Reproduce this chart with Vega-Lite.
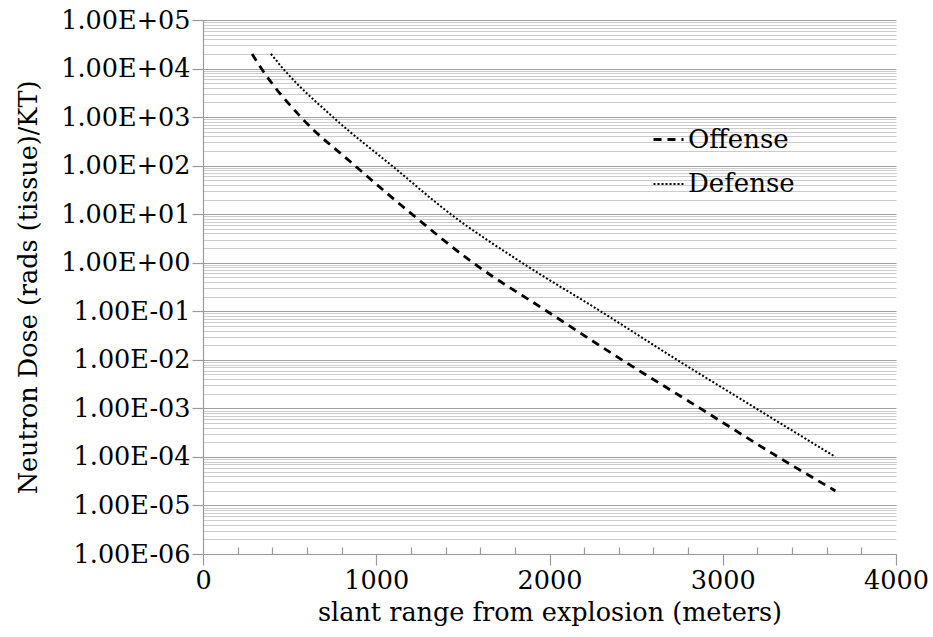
{
  "$schema": "https://vega.github.io/schema/vega-lite/v6.json",
  "autosize": {"type": "none"},
  "width": 693,
  "height": 534,
  "padding": {"left": 203, "top": 20, "right": 37, "bottom": 83},
  "background": "white",
  "config": {
    "view": {"stroke": null},
    "font": "DejaVu Serif",
    "axis": {"labelFont": "DejaVu Serif", "titleFont": "DejaVu Serif", "labelColor": "black", "titleColor": "black", "titleFontWeight": "normal", "labelFontSize": 25.5, "titleFontSize": 25.5, "domainColor": "#999999", "tickColor": "#999999", "domainWidth": 1.2, "tickWidth": 1.2},
    "legend": {"labelFont": "DejaVu Serif", "labelFontSize": 26, "labelColor": "black"}
  },
  "data": {"values": [
    {"series": "Offense", "range": 283, "dose": 20000},
    {"series": "Offense", "range": 337, "dose": 10000},
    {"series": "Offense", "range": 565, "dose": 1000},
    {"series": "Offense", "range": 877, "dose": 100},
    {"series": "Offense", "range": 1206, "dose": 10},
    {"series": "Offense", "range": 1558, "dose": 1},
    {"series": "Offense", "range": 1986, "dose": 0.1},
    {"series": "Offense", "range": 2418, "dose": 0.01},
    {"series": "Offense", "range": 2870, "dose": 0.001},
    {"series": "Offense", "range": 3319, "dose": 0.0001},
    {"series": "Offense", "range": 3650, "dose": 0.00002},
    {"series": "Defense", "range": 392, "dose": 20000},
    {"series": "Defense", "range": 462, "dose": 10000},
    {"series": "Defense", "range": 750, "dose": 1000},
    {"series": "Defense", "range": 1090, "dose": 100},
    {"series": "Defense", "range": 1430, "dose": 10},
    {"series": "Defense", "range": 1841, "dose": 1},
    {"series": "Defense", "range": 2295, "dose": 0.1},
    {"series": "Defense", "range": 2736, "dose": 0.01},
    {"series": "Defense", "range": 3192, "dose": 0.001},
    {"series": "Defense", "range": 3650, "dose": 0.0001}
  ]},
  "mark": {"type": "line", "color": "black", "interpolate": "monotone", "clip": true},
  "encoding": {
    "x": {
      "field": "range", "type": "quantitative",
      "scale": {"domain": [0, 4000], "nice": false},
      "axis": {
        "title": "slant range from explosion (meters)",
        "values": [0, 200, 400, 600, 800, 1000, 1200, 1400, 1600, 1800, 2000, 2200, 2400, 2600, 2800, 3000, 3200, 3400, 3600, 3800, 4000],
        "format": "d",
        "labelExpr": "datum.value % 1000 === 0 ? datum.label : ''",
        "labelOverlap": false,
        "labelFlush": false,
        "grid": false,
        "tickSize": {"condition": {"test": "datum.value % 1000 === 0", "value": 11}, "value": -7},
        "labelPadding": 3,
        "titlePadding": 7
      }
    },
    "y": {
      "field": "dose", "type": "quantitative",
      "scale": {"type": "log", "domain": [0.000001, 100000], "nice": false},
      "axis": {
        "title": "Neutron Dose (rads (tissue)/KT)",
        "values": [1e-6, 2e-6, 3e-6, 4e-6, 5e-6, 6e-6, 7e-6, 8e-6, 9e-6,
                   1e-5, 2e-5, 3e-5, 4e-5, 5e-5, 6e-5, 7e-5, 8e-5, 9e-5,
                   1e-4, 2e-4, 3e-4, 4e-4, 5e-4, 6e-4, 7e-4, 8e-4, 9e-4,
                   0.001, 0.002, 0.003, 0.004, 0.005, 0.006, 0.007, 0.008, 0.009,
                   0.01, 0.02, 0.03, 0.04, 0.05, 0.06, 0.07, 0.08, 0.09,
                   0.1, 0.2, 0.3, 0.4, 0.5, 0.6, 0.7, 0.8, 0.9,
                   1, 2, 3, 4, 5, 6, 7, 8, 9,
                   10, 20, 30, 40, 50, 60, 70, 80, 90,
                   100, 200, 300, 400, 500, 600, 700, 800, 900,
                   1000, 2000, 3000, 4000, 5000, 6000, 7000, 8000, 9000,
                   10000, 20000, 30000, 40000, 50000, 60000, 70000, 80000, 90000,
                   100000],
        "labelExpr": "abs(log(datum.value)/LN10 - round(log(datum.value)/LN10)) < 0.001 ? ('1.00E' + (round(log(datum.value)/LN10) < 0 ? '-' : '+') + '0' + abs(round(log(datum.value)/LN10))) : ''",
        "labelOverlap": false,
        "labelFlush": false,
        "labelBaseline": "middle",
        "grid": true,
        "gridColor": {"condition": {"test": "abs(log(datum.value)/LN10 - round(log(datum.value)/LN10)) < 0.001", "value": "#a0a0a0"}, "value": "#cccccc"},
        "gridWidth": 1.2,
        "tickSize": {"condition": {"test": "abs(log(datum.value)/LN10 - round(log(datum.value)/LN10)) < 0.001", "value": 11}, "value": 0},
        "labelPadding": 2,
        "titleAngle": -90,
        "titleX": -175,
        "titleY": 267,
        "titleAlign": "center",
        "titleBaseline": "middle"
      }
    },
    "strokeDash": {
      "field": "series", "type": "nominal",
      "scale": {"domain": ["Offense", "Defense"], "range": [[8, 6], [2, 2]]},
      "legend": {"title": null, "orient": "none", "legendX": 449, "legendY": 103, "symbolType": "stroke", "symbolSize": 900, "symbolStrokeColor": "black", "symbolStrokeWidth": 2.5, "rowPadding": 15, "labelOffset": 3}
    },
    "strokeWidth": {
      "field": "series", "type": "nominal",
      "scale": {"domain": ["Offense", "Defense"], "range": [2.8, 2]},
      "legend": null
    }
  }
}
